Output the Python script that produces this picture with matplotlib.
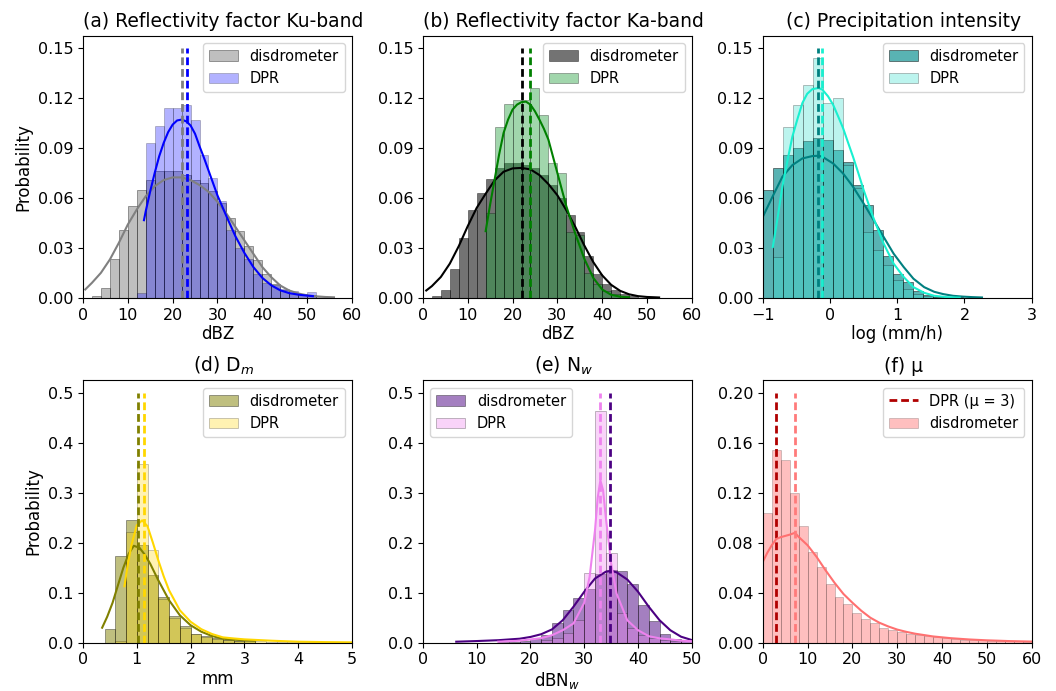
import matplotlib

matplotlib.use("Agg")
import matplotlib.pyplot as plt
from matplotlib.ticker import MultipleLocator

# ---------------------------------------------------------------- data
# (a) reflectivity factor Ku-band (2 dBZ bins)
ku_disdro_start = 0
ku_disdro = [0, 0.001, 0.006, 0.023, 0.041, 0.055, 0.065, 0.0707, 0.0763, 0.076,
             0.076, 0.0737, 0.071, 0.0687, 0.064, 0.057, 0.048, 0.040, 0.031,
             0.0225, 0.014, 0.0085, 0.0048, 0.003, 0.002, 0.0015, 0.001, 0.0005]
ku_dpr_start = 12
ku_dpr = [0.003, 0.093, 0.103, 0.114, 0.114, 0.116, 0.107, 0.086, 0.072, 0.058,
          0.041, 0.030, 0.0235, 0.0145, 0.009, 0.0075, 0.005, 0.004, 0.002, 0.0035]
ku_disdro_kde_x = [0.5, 2, 4, 6, 8, 10, 12, 14, 16, 18, 20, 22, 24, 26, 28, 30,
                   32, 34, 36, 38, 40, 42, 44, 46, 48, 50, 52, 54, 56]
ku_disdro_kde_y = [0.005, 0.009, 0.015, 0.023, 0.033, 0.044, 0.053, 0.061, 0.067,
                   0.0707, 0.0723, 0.0723, 0.0707, 0.0677, 0.0637, 0.0576, 0.0506,
                   0.0426, 0.0345, 0.0265, 0.0185, 0.0124, 0.0074, 0.0044, 0.0026,
                   0.0015, 0.0009, 0.0005, 0.0003]
ku_dpr_kde_x = [13.6, 14, 15, 16, 17, 18, 19, 20, 21, 22, 23, 24, 25, 26, 27, 28,
                30, 32, 34, 36, 38, 40, 42, 44, 46, 48, 50, 51.3]
ku_dpr_kde_y = [0.0466, 0.052, 0.064, 0.075, 0.085, 0.093, 0.0995, 0.104, 0.1065,
                0.107, 0.106, 0.1035, 0.0985, 0.091, 0.084, 0.0765, 0.0615, 0.049,
                0.037, 0.027, 0.0185, 0.012, 0.0075, 0.0045, 0.0028, 0.0019,
                0.0013, 0.001]
ku_means = [22.0, 23.2]

# (b) reflectivity factor Ka-band (2 dBZ bins)
ka_disdro_start = 2
ka_disdro = [0.001, 0.0045, 0.0175, 0.036, 0.0526, 0.063, 0.0715, 0.078, 0.0807,
             0.0807, 0.0795, 0.078, 0.0737, 0.068, 0.060, 0.0496, 0.0396, 0.025,
             0.0145, 0.0085, 0.0045, 0.002, 0.001]
ka_dpr_start = 14
ka_dpr = [0.051, 0.1024, 0.1165, 0.119, 0.119, 0.126, 0.110, 0.0807, 0.0747,
          0.0396, 0.038, 0.015, 0.008, 0.004, 0.002, 0.001]
ka_disdro_kde_x = [0.75, 2, 4, 6, 8, 10, 12, 14, 16, 18, 20, 22, 24, 26, 28, 30,
                   32, 34, 36, 38, 40, 42, 44, 46, 48, 50, 52.7]
ka_disdro_kde_y = [0.0044, 0.007, 0.0125, 0.0205, 0.031, 0.043, 0.054, 0.0625,
                   0.0705, 0.0757, 0.0777, 0.078, 0.0771, 0.0737, 0.0683, 0.0616,
                   0.0526, 0.0426, 0.0315, 0.0215, 0.0135, 0.0078, 0.0042, 0.0021,
                   0.001, 0.0005, 0.0002]
ka_dpr_kde_x = [14, 15, 16, 17, 18, 19, 20, 21, 22, 23, 24, 25, 26, 27, 28, 30,
                32, 34, 36, 38, 40, 42, 44, 46]
ka_dpr_kde_y = [0.040, 0.056, 0.071, 0.086, 0.099, 0.107, 0.113, 0.116, 0.1175,
                0.1178, 0.116, 0.112, 0.107, 0.1015, 0.095, 0.075, 0.055, 0.0385,
                0.0235, 0.012, 0.005, 0.0018, 0.0007, 0.0003]
ka_means = [22.2, 23.9]

# (c) precipitation intensity, log10(mm/h)
rr_bin_start, rr_bin_width = -1.0, 0.149
rr_disdro = [0.065, 0.0777, 0.0857, 0.0898, 0.0944, 0.0958, 0.0948, 0.089, 0.0815,
             0.068, 0.0556, 0.0406, 0.025, 0.0145, 0.0094, 0.0038, 0.0014, 0.0006,
             0.0003, 0.0002, 0.0001, 0.0001]
rr_dpr = [0, 0.0245, 0.1024, 0.1159, 0.128, 0.144, 0.117, 0.120, 0.080, 0.0657,
          0.0396, 0.029, 0.0195, 0.0104, 0.0054, 0.002, 0.001, 0.0005, 0.0002]
rr_disdro_kde_x = [-1.0, -0.857, -0.709, -0.56, -0.411, -0.263, -0.17, -0.114,
                   0.045, 0.193, 0.342, 0.5, 0.649, 0.798, 0.946, 1.095, 1.24, 1.40,
                   1.55, 1.686, 1.83, 1.98, 2.12, 2.26]
rr_disdro_kde_y = [0.0486, 0.0606, 0.0727, 0.0797, 0.0837, 0.0851, 0.0853, 0.0847,
                   0.0807, 0.0747, 0.0667, 0.0566, 0.0466, 0.0365, 0.0265, 0.0185,
                   0.0115, 0.0064, 0.0036, 0.0022, 0.0012, 0.0007, 0.0004, 0.0002]
rr_dpr_kde_x = [-0.851, -0.78, -0.709, -0.63, -0.56, -0.48, -0.411, -0.34, -0.263,
                -0.17, -0.114, -0.03, 0.045, 0.12, 0.193, 0.27, 0.342, 0.42, 0.5,
                0.649, 0.798, 0.946, 1.095, 1.24, 1.40, 1.55, 1.735, 1.93]
rr_dpr_kde_y = [0.0305, 0.048, 0.0667, 0.083, 0.0968, 0.108, 0.117, 0.1225, 0.1253,
                0.126, 0.125, 0.121, 0.116, 0.109, 0.102, 0.093, 0.0847, 0.075,
                0.0647, 0.0476, 0.0325, 0.0205, 0.0125, 0.0064, 0.003, 0.0012,
                0.0004, 0.0001]
rr_means = [-0.182, -0.123]

# (d) mass-weighted mean diameter Dm, mm
dm_bin_start, dm_bin_width = 0.4, 0.2
dm_disdro = [0.0266, 0.174, 0.246, 0.195, 0.1365, 0.0905, 0.054, 0.033, 0.0166,
             0.0133, 0.0087, 0.005, 0.004, 0.0067]
dm_dpr = [0, 0.004, 0.222, 0.358, 0.185, 0.088, 0.05, 0.03, 0.018, 0.012, 0.007,
          0.006, 0.004, 0.004, 0.003, 0.002, 0.002, 0.001, 0.001, 0.001, 0.0008,
          0.0006, 0.0005]
dm_disdro_kde_x = [0.356, 0.45, 0.55, 0.65, 0.75, 0.85, 0.944, 1.05, 1.15, 1.25,
                   1.4, 1.6, 1.8, 2.0, 2.2, 2.4, 2.6, 2.8, 3.0, 3.2]
dm_disdro_kde_y = [0.030, 0.052, 0.080, 0.115, 0.150, 0.178, 0.194, 0.190, 0.176,
                   0.158, 0.125, 0.085, 0.055, 0.035, 0.022, 0.0133, 0.008, 0.006,
                   0.005, 0.004]
dm_dpr_kde_x = [0.77, 0.83, 0.9, 1.0, 1.1, 1.2, 1.3, 1.4, 1.5, 1.6, 1.8, 2.0, 2.2,
                2.4, 2.6, 2.8, 3.0, 3.5, 4.0, 4.5, 5.0]
dm_dpr_kde_y = [0.113, 0.155, 0.195, 0.235, 0.245, 0.233, 0.200, 0.165, 0.133,
                0.105, 0.065, 0.042, 0.027, 0.0173, 0.0107, 0.0085, 0.0067, 0.004,
                0.002, 0.0012, 0.0007]
dm_means = [1.02, 1.13]

# (e) normalized intercept Nw, dBNw (2 unit bins)
nw_disdro_start = 14
nw_disdro = [0.001, 0.002, 0.004, 0.007, 0.016, 0.040, 0.066, 0.090, 0.108, 0.138,
             0.146, 0.143, 0.118, 0.076, 0.043, 0.018, 0.007, 0.004]
nw_dpr_start = 22
nw_dpr = [0.005, 0.01, 0.02, 0.045, 0.14, 0.463, 0.18, 0.06, 0.03, 0.015, 0.01,
          0.005, 0.004, 0.003]
nw_disdro_kde_x = [6.2, 10, 14, 18, 20, 22, 24, 26, 28, 30, 32, 34, 35, 36, 38,
                   40, 42, 44, 46, 48, 50]
nw_disdro_kde_y = [0.002, 0.0033, 0.005, 0.008, 0.0115, 0.017, 0.0266, 0.045,
                   0.072, 0.102, 0.1285, 0.142, 0.1438, 0.141, 0.1265, 0.102, 0.072,
                   0.045, 0.025, 0.012, 0.0053]
nw_dpr_kde_x = [14, 18, 22, 24, 26, 28, 30, 31, 32, 32.5, 33, 33.5, 34, 35, 36, 38,
                40, 42, 44, 46, 48, 50]
nw_dpr_kde_y = [0.002, 0.004, 0.009, 0.015, 0.025, 0.0386, 0.080, 0.132, 0.225,
                0.290, 0.325, 0.305, 0.252, 0.158, 0.0985, 0.045, 0.025, 0.013,
                0.0087, 0.0067, 0.004, 0.003]
nw_means = [34.8, 33.0]

# (f) shape parameter mu (2 unit bins)
mu_disdro_start = 0
mu_disdro = [0.1039, 0.1545, 0.146, 0.12, 0.0935, 0.0727, 0.0607, 0.0469, 0.0362,
             0.0306, 0.024, 0.0186, 0.016, 0.0117, 0.0101, 0.0085, 0.0069, 0.006,
             0.0052, 0.0045, 0.0037, 0.003, 0.0025, 0.002, 0.0018, 0.0015, 0.0013,
             0.0011, 0.001, 0.0008]
mu_kde_x = [0, 1, 2, 3, 4, 5, 6, 7.2, 8, 10, 12, 14, 16, 18, 20, 22, 24, 26, 28, 30,
            32, 34, 38, 42, 46, 50, 55, 60]
mu_kde_y = [0.0647, 0.072, 0.078, 0.083, 0.0845, 0.0855, 0.0865, 0.088, 0.0847,
            0.078, 0.0687, 0.058, 0.048, 0.039, 0.032, 0.0255, 0.020, 0.016, 0.013,
            0.0105, 0.0087, 0.0072, 0.005, 0.0036, 0.0026, 0.0019, 0.0013, 0.0009]
mu_disdro_mean = 7.29
mu_dpr = 3


def hist_bars(ax, start, width, heights, color, alpha, label):
    lefts = [start + i * width for i in range(len(heights))]
    return ax.bar(lefts, heights, width=width, align="edge", color=color,
                  alpha=alpha, edgecolor="black", linewidth=0.5, label=label)


def mean_line(ax, x, top, color, label=None):
    ax.vlines(x, 0, top, colors=color, linestyles=(0, (2.8, 1.4)), linewidth=2,
              label=label)


plt.rcParams["font.family"] = "DejaVu Sans"
fig, axes = plt.subplots(2, 3, figsize=(10.56, 6.91), dpi=100)
fig.subplots_adjust(left=0.0786, right=0.977, bottom=0.0699, top=0.9486,
                    wspace=0.264, hspace=0.315)
(ax_a, ax_b, ax_c), (ax_d, ax_e, ax_f) = axes

# ################ (a) Ku-band ################
hist_bars(ax_a, ku_disdro_start, 2, ku_disdro, "gray", 0.5, "disdrometer")
hist_bars(ax_a, ku_dpr_start, 2, ku_dpr, "blue", 0.3, "DPR")
ax_a.plot(ku_disdro_kde_x, ku_disdro_kde_y, color="gray", lw=1.5)
ax_a.plot(ku_dpr_kde_x, ku_dpr_kde_y, color="blue", lw=1.5)
mean_line(ax_a, ku_means[0], 0.15, "gray")
mean_line(ax_a, ku_means[1], 0.15, "blue")
ax_a.set_title("(a) Reflectivity factor Ku-band")
ax_a.set_xlabel("dBZ")
ax_a.set_ylabel("Probability")

# ################ (b) Ka-band ################
hist_bars(ax_b, ka_disdro_start, 2, ka_disdro, "black", 0.55, "disdrometer")
hist_bars(ax_b, ka_dpr_start, 2, ka_dpr, "#1f9e3a", 0.42, "DPR")
ax_b.plot(ka_disdro_kde_x, ka_disdro_kde_y, color="black", lw=1.5)
ax_b.plot(ka_dpr_kde_x, ka_dpr_kde_y, color="green", lw=1.5)
mean_line(ax_b, ka_means[0], 0.15, "black")
mean_line(ax_b, ka_means[1], 0.15, "green")
ax_b.set_title("(b) Reflectivity factor Ka-band")
ax_b.set_xlabel("dBZ")

for ax in (ax_a, ax_b):
    ax.set_xlim(0, 60)
    ax.xaxis.set_major_locator(MultipleLocator(10))

# ################ (c) rain rate ################
hist_bars(ax_c, rr_bin_start, rr_bin_width, rr_disdro, "darkcyan", 0.65, "disdrometer")
hist_bars(ax_c, rr_bin_start, rr_bin_width, rr_dpr, "turquoise", 0.35, "DPR")
ax_c.plot(rr_disdro_kde_x, rr_disdro_kde_y, color="teal", lw=1.5)
ax_c.plot(rr_dpr_kde_x, rr_dpr_kde_y, color="#19f0d0", lw=1.5)
mean_line(ax_c, rr_means[0], 0.15, "teal")
mean_line(ax_c, rr_means[1], 0.15, "#19f0d0")
ax_c.set_title("(c) Precipitation intensity")
ax_c.set_xlabel("log (mm/h)")
ax_c.set_xlim(-1, 3)
ax_c.xaxis.set_major_locator(MultipleLocator(1))

for ax in (ax_a, ax_b, ax_c):
    ax.set_ylim(0, 0.1575)
    ax.yaxis.set_major_locator(MultipleLocator(0.03))
    ax.legend(loc="upper right", fontsize=10.5)

# ################ (d) Dm ################
hist_bars(ax_d, dm_bin_start, dm_bin_width, dm_disdro, "olive", 0.5, "disdrometer")
hist_bars(ax_d, dm_bin_start, dm_bin_width, dm_dpr, "gold", 0.3, "DPR")
ax_d.plot(dm_disdro_kde_x, dm_disdro_kde_y, color="olive", lw=1.5)
ax_d.plot(dm_dpr_kde_x, dm_dpr_kde_y, color="gold", lw=1.5)
mean_line(ax_d, dm_means[0], 0.5, "olive")
mean_line(ax_d, dm_means[1], 0.5, "gold")
ax_d.set_title("(d) D$_m$")
ax_d.set_xlabel("mm")
ax_d.set_ylabel("Probability")
ax_d.set_xlim(0, 5)
ax_d.xaxis.set_major_locator(MultipleLocator(1))
ax_d.legend(loc="upper right", fontsize=10.5)

# ################ (e) Nw ################
hist_bars(ax_e, nw_disdro_start, 2, nw_disdro, "indigo", 0.5, "disdrometer")
hist_bars(ax_e, nw_dpr_start, 2, nw_dpr, "violet", 0.35, "DPR")
ax_e.plot(nw_disdro_kde_x, nw_disdro_kde_y, color="indigo", lw=1.5)
ax_e.plot(nw_dpr_kde_x, nw_dpr_kde_y, color="violet", lw=1.5)
mean_line(ax_e, nw_means[0], 0.5, "indigo")
mean_line(ax_e, nw_means[1], 0.5, "violet")
ax_e.set_title("(e) N$_w$")
ax_e.set_xlabel("dBN$_w$")
ax_e.set_xlim(0, 50)
ax_e.xaxis.set_major_locator(MultipleLocator(10))
ax_e.legend(loc="upper left", fontsize=10.5)

for ax in (ax_d, ax_e):
    ax.set_ylim(0, 0.525)
    ax.yaxis.set_major_locator(MultipleLocator(0.1))

# ################ (f) mu ################
mean_line(ax_f, mu_dpr, 0.2, "#b00000", label="DPR (μ = 3)")
hist_bars(ax_f, mu_disdro_start, 2, mu_disdro, "red", 0.25, "disdrometer")
ax_f.plot(mu_kde_x, mu_kde_y, color="#ff7070", lw=1.5)
mean_line(ax_f, mu_disdro_mean, 0.2, "#ff7b7b")
ax_f.set_title("(f) μ")
ax_f.set_xlim(0, 60)
ax_f.set_ylim(0, 0.21)
ax_f.xaxis.set_major_locator(MultipleLocator(10))
ax_f.yaxis.set_major_locator(MultipleLocator(0.04))
ax_f.legend(loc="upper right", fontsize=10.5)

for ax in axes.flat:
    ax.title.set_fontsize(13.5)
    ax.title.set_x(0.522)
    ax.xaxis.label.set_fontsize(12)
    ax.yaxis.label.set_fontsize(12)
    ax.xaxis.labelpad = 1.5
    ax.tick_params(labelsize=11.5)

fig.savefig("out.png", dpi=100)
